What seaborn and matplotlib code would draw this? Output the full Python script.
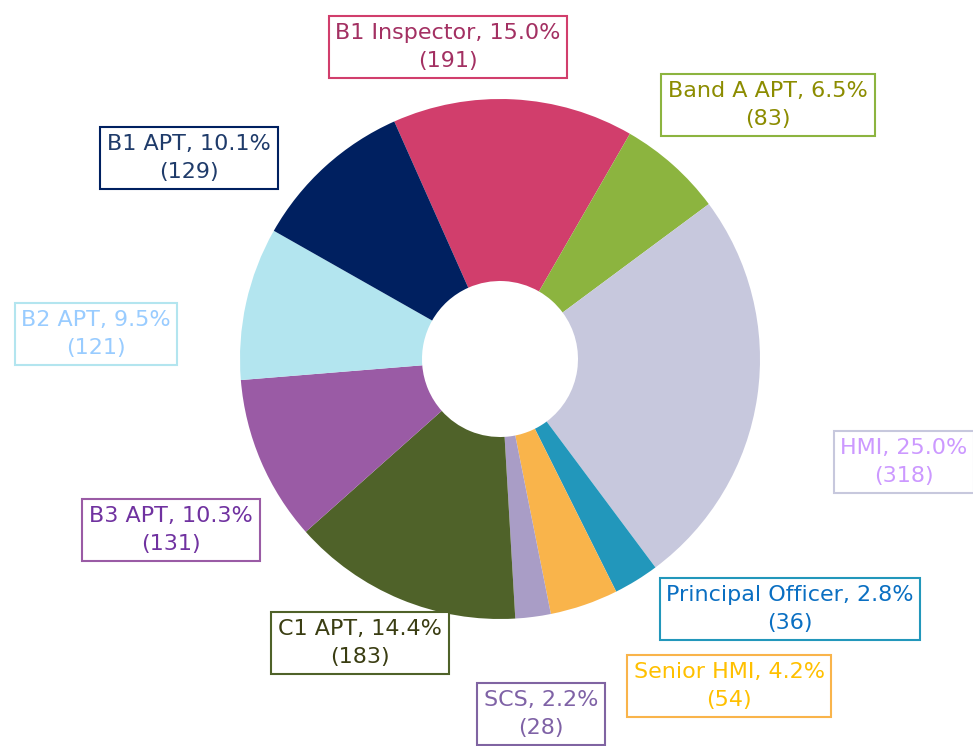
import numpy as np
import seaborn as sns
import matplotlib.pyplot as plt

# Staff groups, clockwise from the top
groups = ['B1 Inspector', 'Band A APT', 'HMI', 'Principal Officer', 'Senior HMI',
          'SCS', 'C1 APT', 'B3 APT', 'B2 APT', 'B1 APT']
counts = [191, 83, 318, 36, 54, 28, 183, 131, 121, 129]

slice_colors = ['#D13E6C', '#8CB43F', '#C7C8DD', '#2297BB', '#F9B44B',
                '#A99DC6', '#4F6229', '#9A5BA5', '#B3E5EF', '#002060']
text_colors = ['#A33062', '#8C8C00', '#CC99FF', '#0A6FC2', '#FFC000',
               '#7F62A6', '#3A3D12', '#7032A0', '#99CCFF', '#1F3B6A']
border_colors = ['#D13E6C', '#8CB43F', '#C7C8DD', '#2297BB', '#F9B44B',
                 '#8064A2', '#4F6229', '#9A5BA5', '#B3E5EF', '#002060']

# label box centres in pixels (layout only)
label_px = [(448, 47), (768, 105), (904, 462), (790, 609), (729, 686),
            (541, 714), (360, 643), (171, 530), (96, 334), (189, 158)]

sns.set_theme(style='white')
plt.rcParams['font.family'] = ['DejaVu Sans']

W, H = 973, 746
cx, cy, R = 500, 359, 260

fig = plt.figure(figsize=(W / 100, H / 100), dpi=100)
ax = fig.add_axes([0, 0, 1, 1])

ax.pie(counts, colors=slice_colors, startangle=114, counterclock=False,
       radius=1, wedgeprops=dict(width=0.7, linewidth=0))

total = sum(counts)
for g, n, tc, bc, (px, py) in zip(groups, counts, text_colors, border_colors, label_px):
    x = (px - cx) / R
    y = (cy - py) / R
    ax.text(x, y, f'{g}, {100 * n / total:.1f}%\n({n})', ha='center', va='center',
            fontsize=16, color=tc, linespacing=1.55,
            bbox=dict(boxstyle='square,pad=0.3', fc='white', ec=bc, lw=1.5))

ax.set_xlim(-cx / R, (W - cx) / R)
ax.set_ylim(-(H - cy) / R, cy / R)
ax.set_aspect('auto')
ax.axis('off')

fig.savefig('out.png', dpi=100)
